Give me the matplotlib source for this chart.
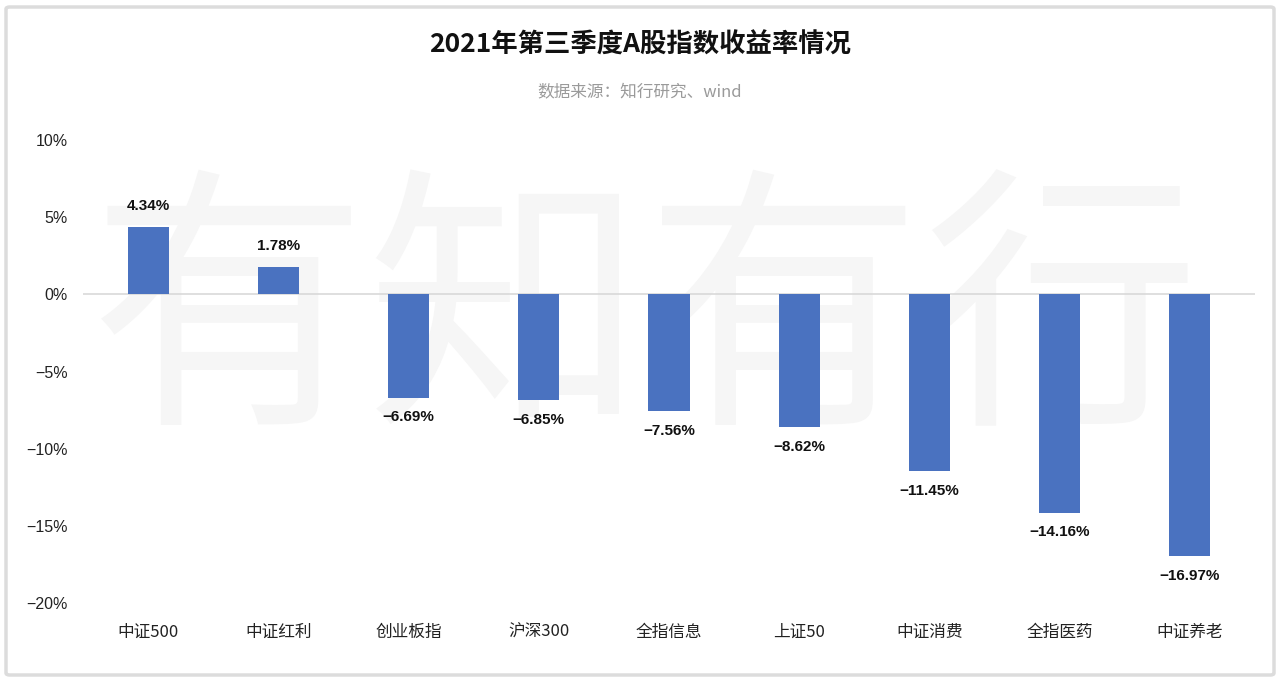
import matplotlib
matplotlib.use("Agg")
import matplotlib.pyplot as plt
from matplotlib.patches import FancyBboxPatch

plt.rcParams['font.family'] = ['Noto Sans CJK SC', 'DejaVu Sans']
plt.rcParams['axes.unicode_minus'] = True

categories = ["中证500", "中证红利", "创业板指", "沪深300", "全指信息", "上证50", "中证消费", "全指医药", "中证养老"]
returns = [4.34, 1.78, -6.69, -6.85, -7.56, -8.62, -11.45, -14.16, -16.97]
yticks = [10, 5, 0, -5, -10, -15, -20]

NUM_FONT = ["Liberation Sans", "DejaVu Sans"]

W, H = 1280, 683
fig = plt.figure(figsize=(W / 100, H / 100), dpi=100)
fig.patch.set_facecolor("white")

# border
border = FancyBboxPatch((6 / W, 8 / H), 1268 / W, 668 / H, boxstyle="round,pad=0,rounding_size=0.003",
                        transform=fig.transFigure, fill=False, edgecolor="#dcdcdc", linewidth=2.5)
fig.patches.append(border)

left, right = 83, 1255
top, bottom = 140, 603
ax = fig.add_axes([left / W, 1 - bottom / H, (right - left) / W, (bottom - top) / H])
ax.set_facecolor("none")

# watermark (behind bars)
ax.text(645 / W, 1 - 325 / H, "有知有行", fontsize=200, color="#f6f6f6", ha="center", va="center",
        fontweight="light", zorder=0, transform=fig.transFigure)

x = list(range(len(categories)))
ax.bar(x, returns, width=0.315, color="#4a72c0", zorder=3)
ax.axhline(0, color="#d9d9d9", linewidth=1.2, zorder=2)
ax.set_xlim(-0.5, len(categories) - 0.5)
ax.set_ylim(-20, 10)

for xi, v in zip(x, returns):
    txt = f"{v:.2f}%".replace("-", "\u2212")
    if v >= 0:
        ax.annotate(txt, (xi, v), xytext=(0, 10), textcoords="offset points", ha="center", va="bottom",
                    fontsize=11, fontweight="bold", color="#111111", family=NUM_FONT, zorder=4)
    else:
        ax.annotate(txt, (xi, v), xytext=(0, -9), textcoords="offset points", ha="center", va="top",
                    fontsize=11, fontweight="bold", color="#111111", family=NUM_FONT, zorder=4)

ax.set_yticks(yticks)
ax.set_yticklabels([(f"{t}%").replace("-", "\u2212") for t in yticks], fontsize=11.5, color="#222222",
                   family=NUM_FONT)
ax.set_xticks(x)
ax.set_xticklabels(categories, fontsize=12, color="#222222")
ax.tick_params(axis="both", length=0)
ax.tick_params(axis="y", pad=11)
ax.tick_params(axis="x", pad=15)
for s in ax.spines.values():
    s.set_visible(False)

fig.text(0.5, 1 - 45 / H, "2021年第三季度A股指数收益率情况", fontsize=19, fontweight="bold",
         ha="center", va="center", color="#111111")
fig.text(0.5, 1 - 92 / H, "数据来源：知行研究、wind", fontsize=12, ha="center", va="center", color="#9a9a9a")

fig.savefig("out.png", dpi=100, facecolor="white")
